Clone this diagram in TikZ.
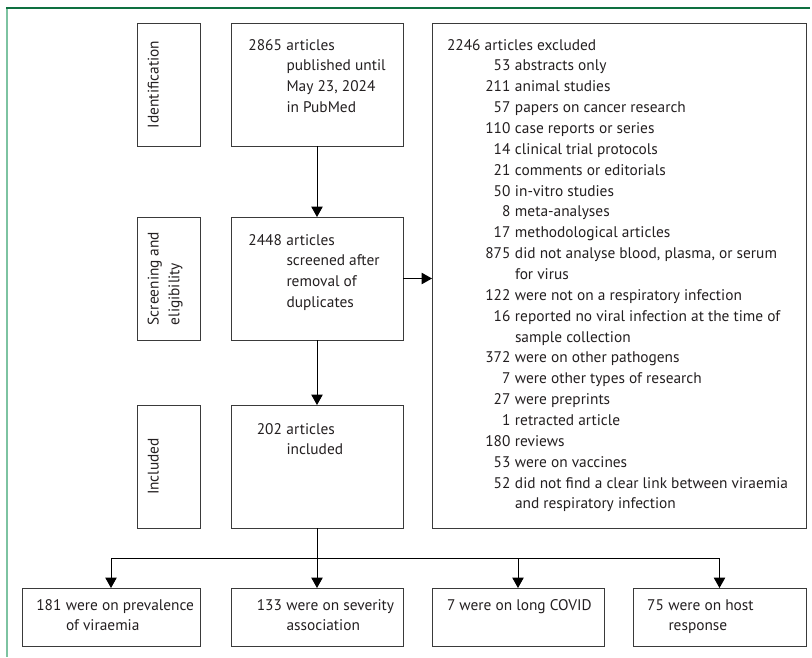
\documentclass[tikz,border=0pt]{standalone}
\usepackage{fontspec}
\setmainfont{PT Sans}
\usetikzlibrary{arrows.meta}
\definecolor{framedark}{HTML}{0E7040}
\definecolor{framelight}{HTML}{7DC3A1}
\definecolor{boxgray}{HTML}{3A3A3A}
\definecolor{txt}{HTML}{231F20}
\newcommand\nm[2]{\makebox[0pt][r]{#1}\hspace{4.5pt}#2}
\newlength\probewidth
\begin{document}
\settowidth\probewidth{\fontsize{10}{12}\selectfont did not analyse blood, plasma, or serum}
\pgfmathsetmacro\fsz{10*262/\probewidth}
\begin{tikzpicture}[x=1pt,y=-1pt,
  box/.style={draw=boxgray, line width=1pt, inner sep=0pt, outer sep=0pt, anchor=north west},
  txtnode/.style={inner sep=0pt, outer sep=0pt, anchor=base west, text=txt, font=\fontsize{\fsz}{20.86}\selectfont},
  vlabel/.style={txtnode, rotate=90, anchor=north},
  arr/.style={draw=black, line width=1pt, -{Triangle[length=10.5pt,width=11.5pt]}}]
\useasboundingbox (0,0) rectangle (812,657);
% frame
\draw[framelight, line width=2pt] (7,8) -- (7,657);
\draw[framedark, line width=1.2pt] (6,8) -- (810,8);
% stage label boxes
\node[box, minimum width=63pt, minimum height=123pt] (s1) at (137,23) {};
\node[box, minimum width=63pt, minimum height=123pt] (s2) at (137,217) {};
\node[box, minimum width=63pt, minimum height=123pt] (s3) at (137,405) {};
\node[vlabel] (s1t) at (144,84.5) {\begin{tabular}{@{}l@{}}Identification\end{tabular}};
\node[vlabel] (s2t) at (144,278.5) {\begin{tabular}{@{}l@{}}Screening and\\eligibility\end{tabular}};
\node[vlabel] (s3t) at (144,466.5) {\begin{tabular}{@{}l@{}}Included\end{tabular}};
% main boxes
\node[box, minimum width=172pt, minimum height=123pt] (b1) at (231,23) {};
\node[box, minimum width=172pt, minimum height=123pt] (b2) at (231,217) {};
\node[box, minimum width=172pt, minimum height=123pt] (b3) at (231,405) {};
\node[box, minimum width=374pt, minimum height=505pt] (ex) at (432,23) {};
\node[txtnode] (b1t) at (282,50) {\begin{tabular}[t]{@{}l@{}}\nm{2865}{articles}\\\nm{}{published until}\\\nm{}{May 23, 2024}\\\nm{}{in PubMed}\end{tabular}};
\node[txtnode] (b2t) at (282,245) {\begin{tabular}[t]{@{}l@{}}\nm{2448}{articles}\\\nm{}{screened after}\\\nm{}{removal of}\\\nm{}{duplicates}\end{tabular}};
\node[txtnode] (b3t) at (282,434) {\begin{tabular}[t]{@{}l@{}}\nm{202}{articles}\\\nm{}{included}\end{tabular}};
\node[txtnode] (exh) at (447,50) {2246 articles excluded};
\node[txtnode] (ext) at (510.5,70.9) {\begin{tabular}[t]{@{}l@{}}
\nm{53}{abstracts only}\\
\nm{211}{animal studies}\\
\nm{57}{papers on cancer research}\\
\nm{110}{case reports or series}\\
\nm{14}{clinical trial protocols}\\
\nm{21}{comments or editorials}\\
\nm{50}{in-vitro studies}\\
\nm{8}{meta-analyses}\\
\nm{17}{methodological articles}\\
\nm{875}{did not analyse blood, plasma, or serum}\\
\nm{}{for virus}\\
\nm{122}{were not on a respiratory infection}\\
\nm{16}{reported no viral infection at the time of}\\
\nm{}{sample collection}\\
\nm{372}{were on other pathogens}\\
\nm{7}{were other types of research}\\
\nm{27}{were preprints}\\
\nm{1}{retracted article}\\
\nm{180}{reviews}\\
\nm{53}{were on vaccines}\\
\nm{52}{did not find a clear link between viraemia}\\
\nm{}{and respiratory infection}
\end{tabular}};
% outcome boxes
\node[box, minimum width=178pt, minimum height=58pt] (o1) at (22,588) {};
\node[box, minimum width=172pt, minimum height=58pt] (o2) at (231,588) {};
\node[box, minimum width=172pt, minimum height=58pt] (o3) at (432,588) {};
\node[box, minimum width=173pt, minimum height=58pt] (o4) at (633,588) {};
\node[txtnode] (o1t) at (61.5,610) {\begin{tabular}[t]{@{}l@{}}\nm{181}{were on prevalence}\\\nm{}{of viraemia}\end{tabular}};
\node[txtnode] (o2t) at (282,610) {\begin{tabular}[t]{@{}l@{}}\nm{133}{were on severity}\\\nm{}{association}\end{tabular}};
\node[txtnode] (o3t) at (447,610) {7 were on long COVID};
\node[txtnode] (o4t) at (664,610) {\begin{tabular}[t]{@{}l@{}}\nm{75}{were on host}\\\nm{}{response}\end{tabular}};
% connectors
\draw[arr] (b1.south) -- (b2.north);
\draw[arr] (b2.south) -- (b3.north);
\draw[arr] (b2.east) -- (ex.west |- b2.east);
\coordinate (br) at (b3.south |- 0,558);
\draw[arr] (b3.south) -- (o2.north);
\draw[arr] (br) -| (o1.north);
\draw[arr] (br) -| (o3.north);
\draw[arr] (br) -| (o4.north);
\end{tikzpicture}
\end{document}
